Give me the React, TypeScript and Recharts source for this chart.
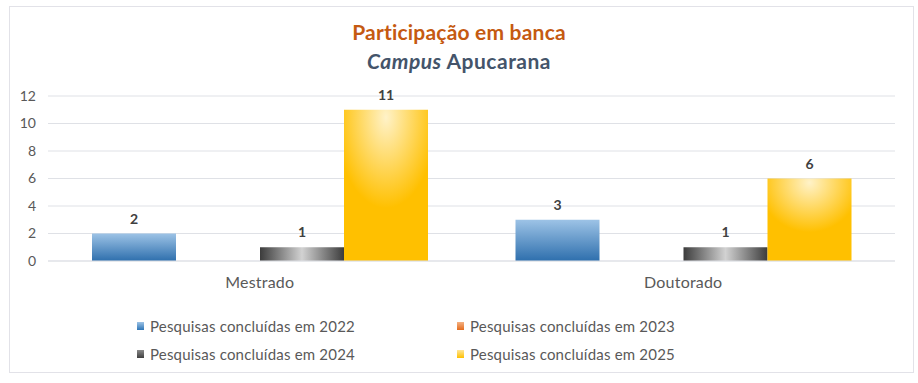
import { Bar, BarChart, CartesianGrid, LabelList, XAxis, YAxis } from "recharts";

const categories = ["Mestrado", "Doutorado"];
const series2022 = [2, 3];
const series2023 = [0, 0];
const series2024 = [1, 1];
const series2025 = [11, 6];
const yTicks = [0, 2, 4, 6, 8, 10, 12];

const seriesNames = [
	"Pesquisas concluídas em 2022",
	"Pesquisas concluídas em 2023",
	"Pesquisas concluídas em 2024",
	"Pesquisas concluídas em 2025",
];

const FONT = "Lato, 'Open Sans', sans-serif";
const TEXT = "#595959";

const data = categories.map((name, i) => ({
	name,
	s2022: series2022[i],
	s2023: series2023[i],
	s2024: series2024[i],
	s2025: series2025[i],
}));

// css versions of the bar fills, for the legend squares
const legendFills = [
	"linear-gradient(#9dc3e6, #2e75b6)",
	"linear-gradient(#f4b183, #e46c1e)",
	"linear-gradient(#8a8a8a, #3f3f3f)",
	"linear-gradient(#ffe699, #ffc000)",
];

const labelStyle = { fill: "#404040", fontSize: 14, fontWeight: 700, fontFamily: FONT };

export default function App() {
	return (
		<div style={{ position: "absolute", left: 0, top: 0, width: 918, height: 383, background: "#fff", fontFamily: FONT }}>
			<div
				style={{
					position: "absolute",
					left: 9,
					top: 6,
					width: 903,
					height: 365,
					border: "1px solid #e2e2e8",
				}}
			/>
			<div
				style={{
					position: "absolute",
					left: 0,
					width: 918,
					top: 19,
					textAlign: "center",
					color: "#c55a11",
					fontWeight: 700,
					fontSize: 21,
					letterSpacing: 0.2,
				}}
			>
				Participação em banca
			</div>
			<div
				style={{
					position: "absolute",
					left: 0,
					width: 918,
					top: 48,
					textAlign: "center",
					color: "#44546a",
					fontWeight: 700,
					fontSize: 21,
					letterSpacing: 0.5,
				}}
			>
				<i>Campus</i> Apucarana
			</div>

			<div style={{ position: "absolute", left: 0, top: 0 }}>
				<BarChart
					width={918}
					height={383}
					data={data}
					margin={{ top: 96, right: 23, bottom: 92, left: 8 }}
					barGap={0}
					barSize={84}
				>
					<defs>
						<linearGradient id="g2022" x1="0" y1="0" x2="0" y2="1">
							<stop offset="0%" stopColor="#9dc3e6" />
							<stop offset="100%" stopColor="#2e6fad" />
						</linearGradient>
						<linearGradient id="g2023" x1="0" y1="0" x2="0" y2="1">
							<stop offset="0%" stopColor="#f4b183" />
							<stop offset="100%" stopColor="#e46c1e" />
						</linearGradient>
						<linearGradient id="g2024" x1="0" y1="0" x2="1" y2="0">
							<stop offset="0%" stopColor="#3c3c3c" />
							<stop offset="50%" stopColor="#d2d2d2" />
							<stop offset="100%" stopColor="#3c3c3c" />
						</linearGradient>
						<radialGradient id="g2025" cx="0.5" cy="0.05" r="0.6">
							<stop offset="0%" stopColor="#fff2c8" />
							<stop offset="100%" stopColor="#ffc000" />
						</radialGradient>
					</defs>
					<CartesianGrid vertical={false} stroke="#dfe1e6" />
					<XAxis
						dataKey="name"
						axisLine={{ stroke: "#dfe1e6" }}
						tickLine={false}
						tickMargin={10}
						height={30}
						tick={{ fill: TEXT, fontSize: 16, fontFamily: FONT, letterSpacing: 0.2 }}
					/>
					<YAxis
						width={40}
						domain={[0, 12]}
						ticks={yTicks}
						axisLine={false}
						tickLine={false}
						tickMargin={6}
						tick={{ fill: TEXT, fontSize: 14, fontFamily: FONT }}
					/>
					<Bar dataKey="s2022" name={seriesNames[0]} fill="url(#g2022)" isAnimationActive={false}>
						<LabelList dataKey="s2022" position="top" offset={10} {...labelStyle} />
					</Bar>
					<Bar dataKey="s2023" name={seriesNames[1]} fill="url(#g2023)" isAnimationActive={false} />
					<Bar dataKey="s2024" name={seriesNames[2]} fill="url(#g2024)" isAnimationActive={false}>
						<LabelList dataKey="s2024" position="top" offset={10} {...labelStyle} />
					</Bar>
					<Bar dataKey="s2025" name={seriesNames[3]} fill="url(#g2025)" isAnimationActive={false}>
						<LabelList dataKey="s2025" position="top" offset={10} {...labelStyle} />
					</Bar>
				</BarChart>
			</div>

			{seriesNames.map((name, i) => (
				<div
					key={name}
					style={{
						position: "absolute",
						left: i % 2 === 0 ? 137 : 457,
						top: i < 2 ? 317 : 345,
						display: "flex",
						alignItems: "center",
						color: TEXT,
						fontSize: 15,
						letterSpacing: 0.2,
						whiteSpace: "nowrap",
					}}
				>
					<span style={{ display: "inline-block", width: 7, height: 8, background: legendFills[i], marginRight: 6 }} />
					{name}
				</div>
			))}
		</div>
	);
}
